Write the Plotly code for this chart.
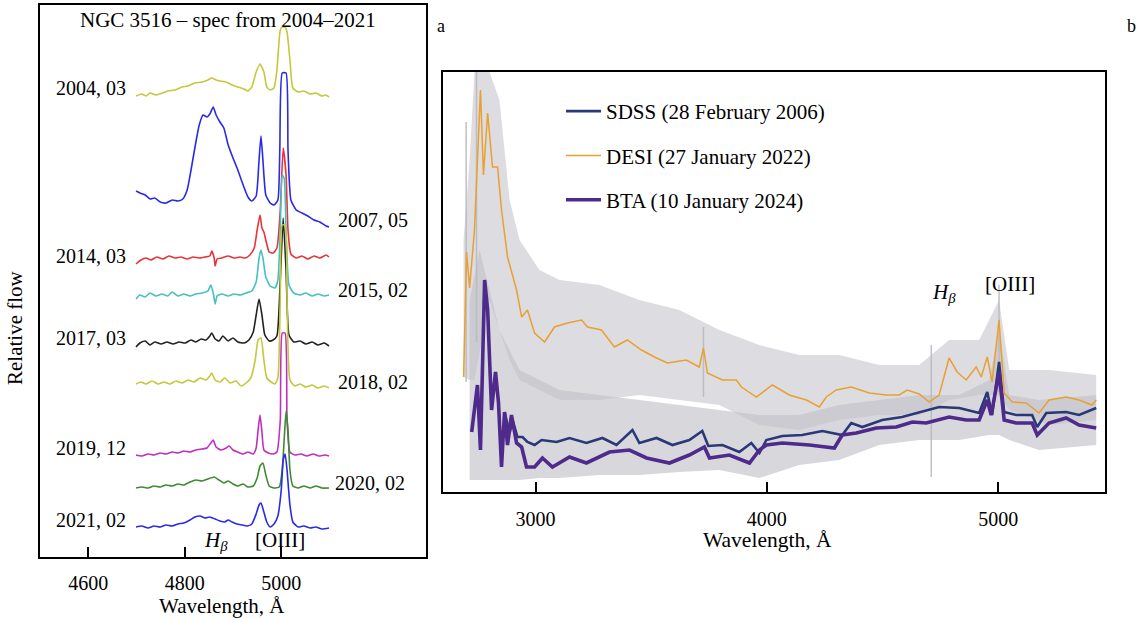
import plotly.graph_objects as go

# ---------------- Left panel (a): NGC 3516 spectra 2004-2021 ----------------
lam_2004 = [4699,4711,4720,4728,4740,4753,4765,4780,4794,4807,4821,4836,4848,4856,4865,4873,4885,4898,4910,4923,4931,4939,4948,4956,4964,4970,4977,4985,4991,4998,5002,5008,5012,5018,5024,5035,5047,5060,5072,5084,5092,5099]
flx_2004 = [461,463,461,464,462,464,466,467,470,471,474,475,477,479,477,476,475,472,470,468,466,470,485,493,485,470,467,469,487,527,530,530,525,497,469,465,466,463,464,461,462,460]

lam_2007 = [4699,4707,4718,4728,4738,4749,4761,4774,4786,4796,4805,4813,4822,4830,4838,4846,4852,4859,4865,4873,4881,4890,4900,4910,4921,4931,4939,4948,4954,4958,4962,4968,4977,4985,4993,4997,5002,5010,5014,5020,5031,5043,5055,5068,5080,5093,5099]
flx_2007 = [366,364,362,358,359,355,354,357,356,358,367,387,412,432,442,440,443,450,442,435,429,412,399,387,372,360,356,361,397,421,397,362,354,352,357,407,484,484,407,357,347,344,341,337,335,331,330]

lam_2014 = [4699,4709,4720,4730,4742,4755,4767,4780,4792,4805,4817,4830,4842,4852,4856,4861,4863,4867,4877,4890,4902,4915,4925,4935,4944,4950,4956,4960,4964,4968,4975,4983,4991,4998,5004,5010,5014,5020,5031,5043,5055,5068,5080,5093,5099]
flx_2014 = [293,297,299,297,300,298,301,299,300,298,300,299,300,301,306,299,291,298,299,301,299,300,299,302,309,327,342,329,325,317,305,304,309,347,409,382,327,303,299,301,298,301,299,302,300]

lam_2015 = [4699,4707,4718,4728,4740,4753,4765,4774,4786,4798,4811,4823,4836,4848,4854,4859,4863,4867,4877,4890,4902,4915,4927,4939,4948,4954,4958,4962,4968,4977,4987,4993,4998,5002,5006,5010,5016,5026,5039,5051,5064,5076,5089,5099]
flx_2015 = [258,262,260,264,261,263,261,265,261,263,261,263,264,266,272,264,253,261,263,261,263,262,264,266,275,299,307,299,280,271,269,277,327,382,379,327,272,264,262,264,261,263,261,262]

lam_2017 = [4699,4707,4718,4728,4738,4751,4763,4776,4788,4801,4813,4823,4834,4844,4852,4856,4863,4871,4879,4890,4900,4910,4923,4933,4942,4948,4954,4960,4966,4975,4983,4991,4998,5004,5010,5016,5026,5039,5051,5064,5076,5089,5099]
flx_2017 = [210,214,216,212,215,213,215,213,215,214,217,215,218,217,221,224,218,216,221,216,219,215,214,217,225,242,258,242,222,216,217,221,277,339,287,222,215,216,213,215,212,214,211]

lam_2018 = [4699,4709,4720,4732,4745,4757,4769,4782,4794,4807,4819,4832,4844,4852,4856,4863,4873,4883,4894,4906,4917,4927,4937,4946,4952,4958,4964,4970,4979,4987,4993,4998,5002,5008,5012,5018,5028,5039,5051,5064,5076,5089,5099]
flx_2018 = [173,175,173,176,173,175,173,176,174,177,175,179,177,181,184,177,175,179,174,176,171,174,179,197,217,219,197,179,175,173,179,257,332,332,257,177,171,173,170,172,169,171,169]

lam_2019 = [4699,4711,4724,4736,4749,4761,4774,4786,4798,4811,4823,4836,4846,4854,4859,4865,4875,4886,4892,4900,4910,4921,4931,4942,4948,4952,4956,4960,4964,4973,4983,4991,4998,5002,5008,5012,5018,5028,5041,5053,5066,5078,5091,5099]
flx_2019 = [102,101,103,102,104,103,105,104,106,105,107,108,109,114,117,110,107,109,111,107,105,103,105,103,109,127,142,125,107,104,103,105,137,224,224,137,105,102,103,101,103,101,102,101]

lam_2020 = [4699,4711,4724,4736,4749,4761,4774,4786,4798,4811,4823,4836,4848,4861,4871,4881,4890,4900,4910,4921,4931,4942,4950,4956,4962,4968,4975,4985,4996,5002,5006,5010,5014,5018,5024,5035,5047,5060,5072,5084,5099]
flx_2020 = [69,70,69,71,70,72,71,73,72,75,77,76,78,80,77,74,76,73,71,73,70,71,79,91,94,82,71,69,70,87,117,146,127,87,71,69,71,69,71,69,69]

lam_2021 = [4699,4711,4724,4736,4749,4761,4774,4786,4798,4811,4821,4832,4842,4852,4863,4873,4883,4890,4898,4908,4919,4929,4939,4948,4954,4958,4964,4970,4977,4985,4993,5000,5004,5008,5012,5018,5024,5035,5047,5060,5072,5084,5099]
flx_2021 = [30,31,29,31,30,32,31,33,34,37,40,41,39,40,38,36,35,37,35,33,32,31,33,43,52,54,45,35,30,33,41,67,97,103,87,52,35,30,31,29,30,28,29]

left_series = [
    ("2004, 03", lam_2004, flx_2004, "#c4c83c"),
    ("2007, 05", lam_2007, flx_2007, "#2a2ae6"),
    ("2014, 03", lam_2014, flx_2014, "#e8333a"),
    ("2015, 02", lam_2015, flx_2015, "#46c0c0"),
    ("2017, 03", lam_2017, flx_2017, "#222222"),
    ("2018, 02", lam_2018, flx_2018, "#c4c83c"),
    ("2019, 12", lam_2019, flx_2019, "#c030c0"),
    ("2020, 02", lam_2020, flx_2020, "#3e8a30"),
    ("2021, 02", lam_2021, flx_2021, "#2a2ae6"),
]
left_ticks = [4600, 4800, 5000]

# ---------------- Right panel (b): SDSS / DESI / BTA ----------------
lam_desi = [2689,2702,2715,2736,2762,2775,2793,2814,2836,2853,2879,2918,2940,2965,2996,3039,3082,3138,3199,3225,3285,3341,3397,3458,3514,3570,3652,3708,3726,3743,3808,3868,3890,3955,4024,4097,4171,4227,4257,4300,4365,4443,4516,4572,4607,4659,4702,4745,4788,4823,4862,4905,4927,4953,4974,5004,5026,5061,5121,5177,5220,5294,5350,5406,5424]
flx_desi = [115,240,204,262,402,317,379,325,325,282,235,202,175,182,159,150,165,169,172,165,162,145,152,142,135,129,132,125,144,119,112,112,105,95,107,97,92,85,95,102,105,99,97,97,102,98,90,97,134,120,112,125,115,135,110,172,99,90,89,79,92,95,92,87,92]

lam_sdss = [2866,2888,2901,2922,2944,2965,2996,3026,3091,3147,3220,3289,3350,3419,3449,3523,3592,3665,3721,3747,3808,3881,3933,3968,3998,4067,4153,4240,4326,4365,4413,4499,4585,4646,4745,4832,4918,4953,4974,5004,5026,5078,5147,5169,5208,5294,5350,5424]
flx_sdss = [80,59,72,55,55,50,47,52,50,54,49,54,47,62,49,54,47,52,61,46,47,40,49,39,52,56,57,61,57,69,65,72,75,79,85,84,79,100,77,130,80,77,77,65,79,80,77,84]

lam_bta = [2724,2732,2749,2762,2780,2793,2810,2827,2840,2853,2866,2879,2896,2918,2940,2961,2996,3030,3073,3147,3220,3320,3406,3480,3579,3665,3730,3752,3838,3925,3968,3998,4067,4184,4292,4326,4387,4473,4560,4629,4689,4788,4862,4918,4953,4970,5004,5026,5078,5147,5169,5220,5294,5350,5424]
flx_bta = [60,75,107,42,212,182,82,120,89,25,80,47,77,49,45,25,25,34,25,35,29,40,42,34,29,37,45,34,37,29,42,47,49,47,44,57,59,64,65,70,69,75,72,72,92,77,120,72,69,69,57,69,74,67,64]

# grey noise envelopes (observed spectra scatter)
lam_noise_desi = [2689,2715,2736,2801,2844,2888,2931,3017,3104,3276,3449,3622,3795,3968,4140,4313,4486,4659,4788,4918,5004,5048,5220,5424]
hi_noise_desi = [252,332,420,420,392,292,252,222,212,207,192,182,162,147,137,137,127,127,152,152,192,122,122,117]
lo_noise_desi = [115,112,112,192,162,132,112,102,92,92,97,92,87,67,62,72,77,77,92,97,97,82,67,72]

lam_noise_low = [2715,2758,2844,2931,3017,3104,3276,3449,3622,3795,3968,4140,4313,4486,4659,4832,4961,5004,5048,5177,5424]
hi_noise_low = [192,242,162,122,112,102,97,92,87,82,77,77,87,92,97,97,112,162,97,92,97]
lo_noise_low = [12,12,12,12,14,14,17,17,20,22,14,27,32,47,52,52,57,57,52,42,47]

lam_spikes = [2700, 2745, 3726, 4711, 5004]
lo_spikes = [110, 150, 95, 15, 100]
hi_spikes = [370, 420, 165, 147, 207]

right_ticks = [3000, 4000, 5000]

# ---------------- Figure ----------------
W, H = 1142, 619
FONT = "Liberation Serif"


def px(x):
    return x / W


def py(y):
    return 1 - y / H


fig = go.Figure()

for name, lam, flx, col in left_series:
    fig.add_trace(go.Scatter(x=lam, y=flx, mode="lines",
                             line=dict(color=col, width=1.6, shape="spline", smoothing=0.5),
                             xaxis="x", yaxis="y", showlegend=False, name=name,
                             hoverinfo="skip"))

# noise bands
for lam, hi, lo, col in [(lam_noise_desi, hi_noise_desi, lo_noise_desi, "rgba(200,200,206,0.62)"),
                         (lam_noise_low, hi_noise_low, lo_noise_low, "rgba(192,192,198,0.62)")]:
    fig.add_trace(go.Scatter(x=lam + lam[::-1], y=hi + lo[::-1], fill="toself", mode="none",
                             fillcolor=col, xaxis="x2", yaxis="y2", showlegend=False,
                             hoverinfo="skip"))
sx, sy = [], []
for l, a, b in zip(lam_spikes, lo_spikes, hi_spikes):
    sx += [l, l, None]
    sy += [a, b, None]
fig.add_trace(go.Scatter(x=sx, y=sy, mode="lines", line=dict(color="rgba(185,185,190,0.9)", width=1.5),
                         xaxis="x2", yaxis="y2", showlegend=False, hoverinfo="skip"))

fig.add_trace(go.Scatter(x=lam_sdss, y=flx_sdss, mode="lines", name="SDSS (28 February 2006)",
                         line=dict(color="#2a3878", width=2.6), xaxis="x2", yaxis="y2",
                         legendgroup="a"))
fig.add_trace(go.Scatter(x=lam_desi, y=flx_desi, mode="lines", name="DESI (27 January 2022)",
                         line=dict(color="#e8a033", width=1.5), xaxis="x2", yaxis="y2",
                         legendgroup="b"))
fig.add_trace(go.Scatter(x=lam_bta, y=flx_bta, mode="lines", name="BTA (10 January 2024)",
                         line=dict(color="#4e2a8c", width=3.6), xaxis="x2", yaxis="y2",
                         legendgroup="c"))

axis_common = dict(showline=True, mirror=True, linecolor="black", linewidth=1.5,
                   showgrid=False, zeroline=False)

fig.update_layout(
    width=W, height=H, margin=dict(l=0, r=0, t=0, b=0),
    paper_bgcolor="white", plot_bgcolor="white",
    font=dict(family=FONT, size=20, color="black"),
    xaxis=dict(domain=[px(40), px(426)], range=[4500, 5300], tickvals=left_ticks,
               ticks="inside", ticklen=10, tickwidth=1.5, tickcolor="black",
               ticklabelstandoff=7, tickfont=dict(size=20), anchor="y", **axis_common),
    yaxis=dict(domain=[py(557), py(5)], range=[0, 552], showticklabels=False, ticks="",
               anchor="x", **axis_common),
    xaxis2=dict(domain=[px(443), px(1105)], range=[2600, 5462], tickvals=right_ticks,
                ticks="inside", ticklen=10, tickwidth=1.5, tickcolor="black",
                ticklabelstandoff=8, tickfont=dict(size=20), anchor="y2", **axis_common),
    yaxis2=dict(domain=[py(492), py(72)], range=[0, 420], showticklabels=False, ticks="",
                anchor="x2", **axis_common),
    legend=dict(x=px(561), y=py(91), xanchor="left", yanchor="top", bgcolor="rgba(0,0,0,0)",
                font=dict(size=21), tracegroupgap=14, borderwidth=0, itemwidth=35),
    showlegend=True,
)

ann = []


def add(text, x, y, xanchor="center", size=20, **kw):
    ann.append(dict(text=text, x=px(x), y=py(y), xref="paper", yref="paper", showarrow=False,
                    xanchor=xanchor, yanchor="middle", font=dict(size=size, family=FONT), **kw))


add("NGC 3516 – spec from 2004–2021", 228, 20, size=21)
left_labels = [("2004, 03", 128, 88, "right"), ("2007, 05", 336, 220, "left"),
               ("2014, 03", 128, 256, "right"), ("2015, 02", 336, 290, "left"),
               ("2017, 03", 128, 338, "right"), ("2018, 02", 336, 382, "left"),
               ("2019, 12", 128, 448, "right"), ("2020, 02", 333, 483, "left"),
               ("2021, 02", 128, 520, "right")]
for t, x, y, a in left_labels:
    add(t, x, y, xanchor=a)
add("<i>H<sub>β</sub></i>", 216, 541, size=21)
add("[OIII]", 280, 540, size=21)
add("Wavelength, Å", 222, 606, size=21)
add("Relative flow", 15, 328, textangle=-90, size=21)
add("a", 441, 26, size=18)
add("b", 1131, 26, size=18)
add("<i>H<sub>β</sub></i>", 944, 293, size=21)
add("[OIII]", 1010, 284, size=21)
add("Wavelength, Å", 767, 540, size=21.5)

fig.update_layout(annotations=ann)
fig.write_html("out.html")
